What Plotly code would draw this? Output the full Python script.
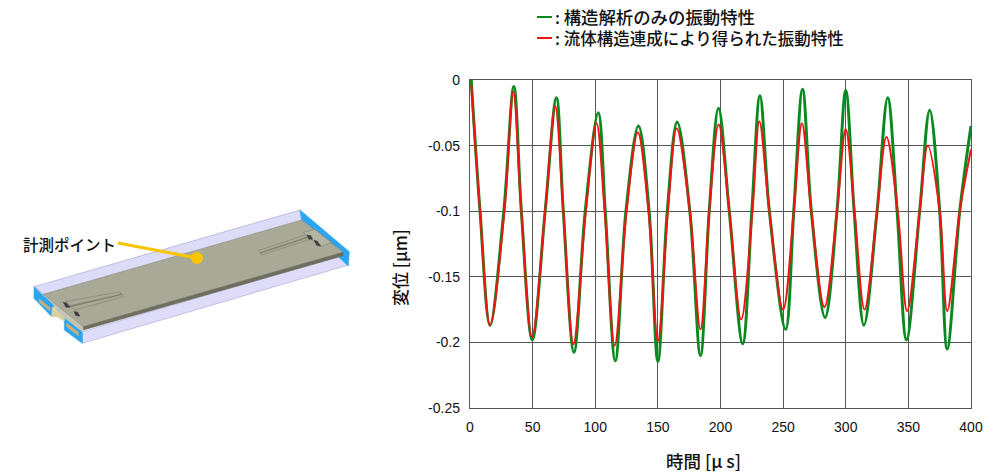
import plotly.graph_objects as go

time_green = [1,8,16,27,35,41,49.7,60,69,74.5,83,92,102.4,108,116,124.5,134.5,143,150,157.5,165.4,175.5,184,191,198.4,207,217.7,225,231.5,239,252,258.5,265.5,272.5,283.5,293,300,306.7,314.5,325,333.5,341,348.5,359,367,375,381,391,400]
green_um = [0,-0.1,-0.187,-0.1,-0.005,-0.1,-0.198,-0.1,-0.0135,-0.1,-0.2075,-0.1,-0.025,-0.1,-0.214,-0.1,-0.035,-0.1,-0.2145,-0.1,-0.032,-0.1,-0.21,-0.1,-0.0215,-0.1,-0.201,-0.1,-0.012,-0.1,-0.19,-0.1,-0.007,-0.1,-0.181,-0.1,-0.008,-0.1,-0.187,-0.1,-0.0135,-0.1,-0.198,-0.1,-0.023,-0.1,-0.205,-0.1,-0.035]
time_red = [1,8,16,27.5,34.5,41,49.5,60,68,74.5,82.5,92.5,101,107.5,115.5,125,134,142.5,150,158,165,175.5,184,191,198.5,207,216.5,225.5,231,239,250,258.5,265,272.5,283,293,300,307,315,325,332.5,341.5,349,359,365.5,375,381,391,400]
red_um = [-0.004,-0.1,-0.187,-0.1,-0.009,-0.1,-0.196,-0.1,-0.02,-0.1,-0.2015,-0.1,-0.033,-0.1,-0.2025,-0.1,-0.04,-0.1,-0.199,-0.1,-0.037,-0.1,-0.19,-0.1,-0.034,-0.1,-0.1825,-0.1,-0.0315,-0.1,-0.175,-0.1,-0.033,-0.1,-0.173,-0.1,-0.0375,-0.1,-0.175,-0.1,-0.0435,-0.1,-0.176,-0.1,-0.05,-0.1,-0.176,-0.1,-0.053]

x_ticks = [0,50,100,150,200,250,300,350,400]
y_ticks = [0,-0.05,-0.1,-0.15,-0.2,-0.25]
y_labels = ["0","-0.05","-0.1","-0.15","-0.2","-0.25"]
green_name = "構造解析のみの振動特性"
red_name = "流体構造連成により得られた振動特性"
GREEN, RED = "#0a8a1e", "#f01414"
JP = "Noto Sans CJK JP Medium, Noto Sans CJK JP"

W, H = 1000, 476
fig = go.Figure()
fig.add_trace(go.Scatter(x=time_green, y=green_um, mode="lines", name=green_name,
                         line=dict(color=GREEN, width=3, shape="spline", smoothing=1)))
fig.add_trace(go.Scatter(x=time_red, y=red_um, mode="lines", name=red_name,
                         line=dict(color=RED, width=2, shape="spline", smoothing=1)))
fig.add_trace(go.Scatter(x=[0], y=[0], xaxis="x2", yaxis="y2", mode="markers",
                         marker=dict(opacity=0), hoverinfo="skip", showlegend=False))


def z(p):
    return (p[0] / 3, 190 + p[1] / 3)


def poly(points, fill, line=None, lw=0.6):
    pts = [z(p) for p in points]
    path = "M " + " L ".join(f"{a:.1f},{b:.1f}" for a, b in pts) + " Z"
    return dict(type="path", path=path, xref="x2", yref="y2", fillcolor=fill,
                line=dict(color=line or fill, width=lw), layer="above")


PLATE = "#a9a997"
SIDE = "#c4c4b4"
BLUE = "#2aa6f0"
TAN = "#c8b078"
DARK = "#3c3c44"
EDGE = "#80806e"
shapes = [
    poly([(102, 290), (900, 60), (905, 95), (135, 315)], "#dcdcf8", "#a0a0d0"),
    poly([(247, 425), (1030, 195), (1045, 225), (247, 460)], "#dedcf8", "#a8a6d0"),
    poly([(900, 60), (1048, 185), (1045, 228), (1020, 205), (905, 90)], BLUE),
    poly([(130, 313), (250, 410), (247, 430), (193, 388), (160, 350)], SIDE),
    poly([(102, 290), (160, 345), (155, 380), (102, 325)], BLUE),
    poly([(193, 385), (247, 427), (247, 460), (193, 420)], BLUE),
    poly([(118, 327), (150, 353), (150, 363), (118, 337)], TAN),
    poly([(200, 400), (235, 427), (235, 437), (200, 410)], TAN),
    poly([(157, 352), (193, 385), (193, 393), (170, 380), (155, 380)], "#ddd0a0"),
    poly([(130, 313), (905, 90), (1030, 187), (250, 410)], PLATE, "#8c8c7c"),
    poly([(250, 410), (1030, 187), (1030, 197), (250, 420)], "#6e6e60"),
    poly([(195, 335), (360, 305), (370, 320), (225, 360)], PLATE, EDGE),
    poly([(210, 347), (365, 312), (365, 314), (212, 350)], EDGE),
    poly([(910, 127), (945, 118), (995, 158), (960, 170)], "#b4b4a2", EDGE),
    poly([(775, 182), (915, 135), (930, 148), (785, 195)], PLATE, EDGE),
    poly([(780, 188), (922, 141), (923, 143), (781, 190)], EDGE),
    poly([(190, 337), (200, 340), (210, 352), (198, 352)], DARK),
    poly([(222, 365), (232, 366), (240, 378), (228, 377)], DARK),
    poly([(922, 135), (932, 137), (938, 148), (926, 147)], DARK),
    poly([(942, 150), (952, 154), (962, 168), (950, 166)], DARK),
    dict(type="line", xref="x2", yref="y2", x0=118, y0=243, x1=197, y1=258,
         line=dict(color="#f8c400", width=3.2), layer="above"),
    dict(type="circle", xref="x2", yref="y2", x0=191, y0=252, x1=203, y1=264,
         fillcolor="#f8c400", line=dict(color="#f8c400", width=0), layer="above"),
    dict(type="line", xref="x2", yref="y2", x0=537, y0=17, x1=552, y1=17,
         line=dict(color=GREEN, width=2), layer="above"),
    dict(type="line", xref="x2", yref="y2", x0=537, y0=38, x1=552, y1=38,
         line=dict(color=RED, width=2), layer="above"),
]


def note(x, y, text, size=16.5, anchor="left", angle=0):
    return dict(xref="x2", yref="y2", x=x, y=y, text=text, showarrow=False, xanchor=anchor,
                yanchor="middle", textangle=angle, font=dict(family=JP, size=size, color="#111"),
                align="left")


annotations = [
    note(21, 244, "計測ポイント", size=15.5),
    note(552.5, 26.5, ": <span style='font-size:17.4px'>" + green_name + "</span><br>: " + red_name),
    note(399, 268, "変位 [μm]", size=17, anchor="center", angle=-90),
    note(703, 460, "時間 [μ s]", size=17.5, anchor="center"),
]

axis_style = dict(showline=True, linecolor="#555", linewidth=1.4, showgrid=True,
                  gridcolor="#555", gridwidth=1.4, zeroline=False, ticks="", automargin=False,
                  tickfont=dict(family="Liberation Sans", size=14, color="#111"))
fig.update_layout(
    width=W, height=H, showlegend=False, paper_bgcolor="white", plot_bgcolor="rgba(0,0,0,0)",
    margin=dict(l=0, r=0, t=0, b=0), shapes=shapes, annotations=annotations,
    xaxis=dict(domain=[470 / W, 971 / W], range=[0, 400], tickvals=x_ticks, mirror=True,
               ticklabelstandoff=6, **axis_style),
    yaxis=dict(domain=[1 - 408 / H, 1 - 80 / H], range=[-0.25, 0], tickvals=y_ticks, ticktext=y_labels,
               mirror=True, ticklabelstandoff=6, **axis_style),
    xaxis2=dict(domain=[0, 1], range=[0, W], visible=False, anchor="y2", automargin=False),
    yaxis2=dict(domain=[0, 1], range=[H, 0], visible=False, anchor="x2", automargin=False),
)
fig.write_html("out.html", config={"displayModeBar": False},
               post_script="document.body.style.margin='0';document.documentElement.style.overflow='hidden';")
